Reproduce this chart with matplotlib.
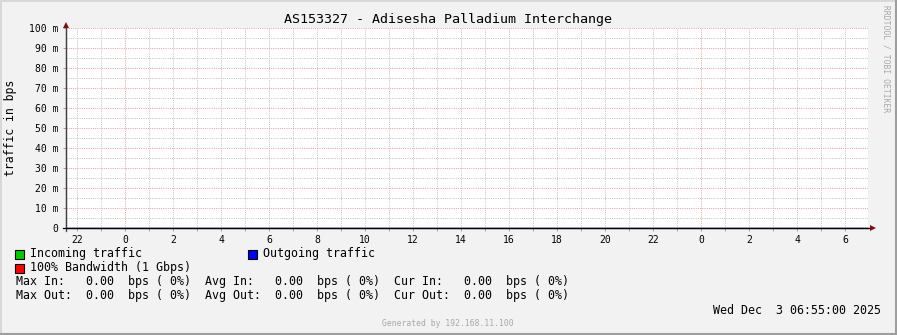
import matplotlib
matplotlib.use("Agg")
import matplotlib.pyplot as plt
from matplotlib.lines import Line2D

W, H = 897, 335
DPI = 100

title = "AS153327 - Adisesha Palladium Interchange"
ylabel = "traffic in bps"

# time axis in hours relative to first midnight
x_ticks = [-2, 0, 2, 4, 6, 8, 10, 12, 14, 16, 18, 20, 22, 24, 26, 28, 30]
x_tick_labels = ["22", "0", "2", "4", "6", "8", "10", "12", "14", "16",
                 "18", "20", "22", "0", "2", "4", "6"]
grid_hours = list(range(-2, 31))
midnights = [0, 24]
x_start, x_end = -2.46, 30.96

y_ticks = [0, 0.01, 0.02, 0.03, 0.04, 0.05, 0.06, 0.07, 0.08, 0.09, 0.10]
y_tick_labels = ["0", "10 m", "20 m", "30 m", "40 m", "50 m", "60 m",
                 "70 m", "80 m", "90 m", "100 m"]
y_minor = [0.005, 0.015, 0.025, 0.035, 0.045, 0.055, 0.065, 0.075, 0.085, 0.095]

# data (all zero traffic)
time_h = [-2.46, 30.96]
incoming = [0.0, 0.0]
outgoing = [0.0, 0.0]

legend_items = [("Incoming traffic", "#00CC00"),
                ("Outgoing traffic", "#0000FF"),
                ("100% Bandwidth (1 Gbps)", "#FF0000")]
stats_in = "Max In:   0.00  bps ( 0%)  Avg In:   0.00  bps ( 0%)  Cur In:   0.00  bps ( 0%)"
stats_out = "Max Out:  0.00  bps ( 0%)  Avg Out:  0.00  bps ( 0%)  Cur Out:  0.00  bps ( 0%)"
date_text = "Wed Dec  3 06:55:00 2025"
generated = "Generated by 192.168.11.100"
watermark = "RRDTOOL / TOBI OETIKER"

MONO = "DejaVu Sans Mono"
plt.rcParams["font.family"] = MONO

fig = plt.figure(figsize=(W / DPI, H / DPI), dpi=DPI, facecolor="#F2F2F2")


def fx(x):
    return x / W


def fy(y):
    return 1 - y / H


L, R, T, B = 66, 868, 28, 228
ax = fig.add_axes([fx(L), fy(B), (R - L) / W, (B - T) / H])
ax.set_facecolor("white")
ax.set_xlim(x_start, x_end)
ax.set_ylim(0, 0.1)

dot = (0, (1, 1.2))
lw = 0.72
for h in grid_hours:
    if h in midnights:
        ax.axvline(h, color="#F2A0A0", lw=lw, ls=dot, zorder=1)
    else:
        ax.axvline(h, color="#C4C4C4", lw=lw, ls=dot, zorder=0.5)
for y in y_minor:
    ax.axhline(y, color="#C4C4C4", lw=lw, ls=dot, zorder=0.5)
for y in y_ticks[1:]:
    ax.axhline(y, color="#F2A0A0", lw=lw, ls=dot, zorder=1)

ax.fill_between(time_h, incoming, color="#00CC00", lw=0, zorder=2)
ax.plot(time_h, outgoing, color="#0000FF", lw=1, zorder=3)

for s in ["top", "right"]:
    ax.spines[s].set_visible(False)
ax.spines["left"].set_color("#404040")
ax.spines["bottom"].set_color("black")
ax.spines["left"].set_linewidth(0.9)
ax.spines["bottom"].set_linewidth(0.9)
ax.spines["left"].set_zorder(5)
ax.spines["bottom"].set_zorder(5)

# axis extensions toward the arrowheads
ax.plot([0, 0], [-0.015, 1.01], color="#404040", lw=0.9, transform=ax.transAxes,
        clip_on=False, zorder=5)
ax.plot([-0.004, 1.004], [0, 0], color="black", lw=0.9, transform=ax.transAxes,
        clip_on=False, zorder=5)

ax.set_xticks(x_ticks)
ax.set_xticklabels(x_tick_labels)
ax.set_xticks(grid_hours, minor=True)
ax.set_yticks(y_ticks)
ax.set_yticklabels(y_tick_labels)
ax.tick_params(axis="both", which="both", length=2, width=0.7, color="#A0A0A0",
               labelsize=7.0, labelcolor="black", direction="out")
ax.tick_params(axis="x", pad=3.0)
ax.tick_params(axis="y", pad=3.5)

# arrowheads
ax.plot([0], [1.016], marker="^", ms=5, color="#7F1010", transform=ax.transAxes,
        clip_on=False, zorder=6, markeredgewidth=0)
ax.plot([1.006], [0], marker=">", ms=5, color="#7F1010", transform=ax.transAxes,
        clip_on=False, zorder=6, markeredgewidth=0)

# title and y label
fig.text(fx(448), fy(19), title, ha="center", va="center", fontsize=9.6, color="black")
fig.text(fx(11), fy(128), ylabel, ha="center", va="center", rotation=90,
         fontsize=8.3, color="black")

# legend
def square(x, y, color):
    fig.patches.append(matplotlib.patches.Rectangle(
        (fx(x), fy(y + 9)), 9 / W, 9 / H, transform=fig.transFigure,
        facecolor=color, edgecolor="black", lw=0.8, figure=fig))

row_y = [254, 268, 282, 296]
square(15, row_y[0] - 4.5, legend_items[0][1])
fig.text(fx(30), fy(row_y[0]), legend_items[0][0], va="center", fontsize=8.4)
square(248, row_y[0] - 4.5, legend_items[1][1])
fig.text(fx(263), fy(row_y[0]), legend_items[1][0], va="center", fontsize=8.4)
square(15, row_y[1] - 4.5, legend_items[2][1])
fig.text(fx(30), fy(row_y[1]), legend_items[2][0], va="center", fontsize=8.4)
fig.text(fx(16), fy(row_y[2]), stats_in, va="center", fontsize=8.4)
fig.text(fx(16), fy(row_y[3]), stats_out, va="center", fontsize=8.4)

fig.text(fx(881), fy(310), date_text, ha="right", va="center", fontsize=8.4)
fig.text(fx(448), fy(324), generated, ha="center", va="center", fontsize=5.8,
         color="#A8A8A8")
fig.text(fx(886), fy(59), watermark, ha="center", va="center", rotation=-90,
         fontsize=5.8, color="#A8A8A8")

# 3D frame
fig.lines.append(Line2D([0, 1], [fy(0.5), fy(0.5)], transform=fig.transFigure,
                        color="#D8D8D8", lw=1.4))
fig.lines.append(Line2D([fx(0.5), fx(0.5)], [0, 1], transform=fig.transFigure,
                        color="#D8D8D8", lw=1.4))
fig.lines.append(Line2D([0, 1], [fy(H - 1), fy(H - 1)], transform=fig.transFigure,
                        color="#9E9E9E", lw=2.2))
fig.lines.append(Line2D([fx(W - 1), fx(W - 1)], [0, 1], transform=fig.transFigure,
                        color="#9E9E9E", lw=2.2))

fig.savefig("out.png", dpi=DPI, facecolor=fig.get_facecolor())
